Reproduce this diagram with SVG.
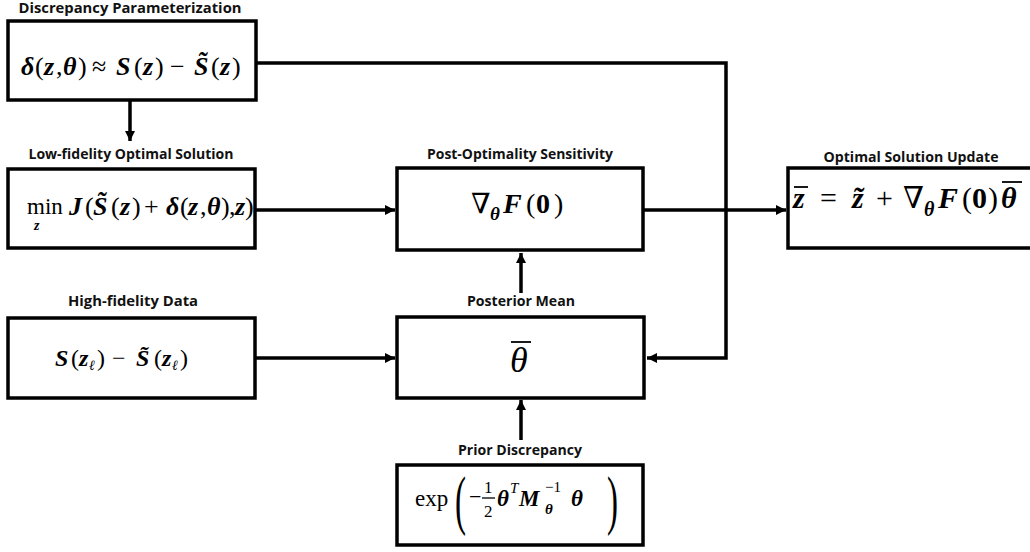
<svg xmlns="http://www.w3.org/2000/svg" width="1030" height="552" viewBox="0 0 1030 552">
<style>
.box{fill:#fff;stroke:#000;stroke-width:3.5}
.title{font-family:"Open Sans","Liberation Sans",sans-serif;font-weight:700;font-size:14px;fill:#111;text-anchor:middle}
.m{font-family:"Liberation Serif","DejaVu Serif",serif;fill:#000}
.bi{font-weight:700;font-style:italic}
.it{font-style:italic}
.conn{fill:none;stroke:#000;stroke-width:3.5}
.bar{stroke:#000;stroke-width:1.8}
</style>
<defs>
<marker id="ah" markerUnits="userSpaceOnUse" markerWidth="12" markerHeight="12" refX="10" refY="5" orient="auto">
<path d="M0,0 L10,5 L0,10 z" fill="#000"/>
</marker>
</defs>

<g id="connectors">
<path class="conn" d="M130,100 V141" marker-end="url(#ah)"/>
<path class="conn" d="M256,63 H726 V358 H647" marker-end="url(#ah)"/>
<path class="conn" d="M255,210 H395" marker-end="url(#ah)"/>
<path class="conn" d="M643,210 H786" marker-end="url(#ah)"/>
<path class="conn" d="M255,358 H395" marker-end="url(#ah)"/>
<path class="conn" d="M521,293 V253" marker-end="url(#ah)"/>
<path class="conn" d="M521,440 V400" marker-end="url(#ah)"/>
</g>

<g id="node-discrepancy">
<text class="title" x="130" y="13" textLength="223" lengthAdjust="spacingAndGlyphs">Discrepancy Parameterization</text>
<rect class="box" x="8" y="21" width="248" height="79"/>
<text class="m" y="75" font-size="26"><tspan class="bi" x="21">δ</tspan><tspan x="35">(</tspan><tspan class="bi" x="44">z</tspan><tspan x="56">,</tspan><tspan class="bi" x="63">θ</tspan><tspan x="78">)</tspan><tspan x="92">≈</tspan><tspan class="bi" x="116">S</tspan><tspan x="134">(</tspan><tspan class="bi" x="143">z</tspan><tspan x="155">)</tspan><tspan x="170">−</tspan><tspan class="bi" x="194">S&#771;</tspan><tspan x="211">(</tspan><tspan class="bi" x="220">z</tspan><tspan x="232">)</tspan></text>
</g>

<g id="node-lowfi">
<text class="title" x="131" y="159" textLength="205" lengthAdjust="spacingAndGlyphs">Low-fidelity Optimal Solution</text>
<rect class="box" x="8" y="169" width="247" height="79"/>
<text class="m" x="27" y="214" font-size="23">min</text>
<text class="m bi" x="34" y="230" font-size="14">z</text>
<text class="m" y="215" font-size="26"><tspan class="bi" x="69">J</tspan><tspan x="85">(</tspan><tspan class="bi" x="93">S&#771;</tspan><tspan x="111">(</tspan><tspan class="bi" x="120">z</tspan><tspan x="132">)</tspan><tspan x="144">+</tspan><tspan class="bi" x="166">δ</tspan><tspan x="180">(</tspan><tspan class="bi" x="188">z</tspan><tspan x="200">,</tspan><tspan class="bi" x="207">θ</tspan><tspan x="221">)</tspan><tspan x="229">,</tspan><tspan class="bi" x="235">z</tspan><tspan x="245">)</tspan></text>
</g>

<g id="node-postopt">
<text class="title" x="520" y="159" textLength="186" lengthAdjust="spacingAndGlyphs">Post-Optimality Sensitivity</text>
<rect class="box" x="397" y="168" width="246" height="82"/>
<text class="m" y="213" font-size="28"><tspan x="471">∇</tspan><tspan class="bi" x="490" y="220" font-size="19">θ</tspan><tspan class="bi" x="503" y="213">F</tspan><tspan x="526">(</tspan><tspan font-weight="700" x="536">0</tspan><tspan x="554">)</tspan></text>
</g>

<g id="node-update">
<text class="title" x="911" y="162" textLength="175" lengthAdjust="spacingAndGlyphs">Optimal Solution Update</text>
<rect class="box" x="788" y="168" width="260" height="80"/>
<line class="bar" x1="794" y1="187" x2="808" y2="187"/>
<line class="bar" x1="1002" y1="182" x2="1022" y2="182"/>
<text class="m" y="208" font-size="30"><tspan class="bi" x="793">z</tspan><tspan x="820">=</tspan><tspan class="bi" x="852">z&#771;</tspan><tspan x="876">+</tspan><tspan x="903">∇</tspan><tspan class="bi" x="924" y="216" font-size="20">θ</tspan><tspan class="bi" x="938" y="208">F</tspan><tspan x="962">(</tspan><tspan font-weight="700" x="972">0</tspan><tspan x="988">)</tspan><tspan class="bi" x="1001">θ</tspan></text>
</g>

<g id="node-highfi">
<text class="title" x="133" y="306" textLength="130" lengthAdjust="spacingAndGlyphs">High-fidelity Data</text>
<rect class="box" x="8" y="318" width="247" height="80"/>
<text class="m" y="366" font-size="24"><tspan class="bi" x="55">S</tspan><tspan x="71">(</tspan><tspan class="bi" x="79">z</tspan><tspan class="it" x="89" y="370" font-size="14">ℓ</tspan><tspan x="97" y="366">)</tspan><tspan x="112">−</tspan><tspan class="bi" x="136">S&#771;</tspan><tspan x="154">(</tspan><tspan class="bi" x="162">z</tspan><tspan class="it" x="172" y="370" font-size="14">ℓ</tspan><tspan x="180" y="366">)</tspan></text>
</g>

<g id="node-posterior">
<text class="title" x="521" y="306" textLength="108" lengthAdjust="spacingAndGlyphs">Posterior Mean</text>
<rect class="box" x="397" y="317" width="247" height="81"/>
<line class="bar" x1="511" y1="342" x2="531" y2="342"/>
<text class="m it" x="510" y="372" font-size="36">θ</text>
</g>

<g id="node-prior">
<text class="title" x="520" y="455" textLength="124" lengthAdjust="spacingAndGlyphs">Prior Discrepancy</text>
<rect class="box" x="397" y="465" width="246" height="80"/>
<text class="m" x="415" y="506" font-size="23">exp</text>
<text class="m" x="455" y="522" font-size="66" transform="translate(455 0) scale(0.5 1) translate(-455 0)">(</text>
<text class="m" x="607" y="522" font-size="66" transform="translate(607 0) scale(0.5 1) translate(-607 0)">)</text>
<text class="m" x="469" y="504" font-size="22">−</text>
<text class="m" x="484" y="493" font-size="17">1</text>
<line class="bar" x1="482" y1="498" x2="495" y2="498" style="stroke-width:1.3"/>
<text class="m" x="484" y="517" font-size="17">2</text>
<text class="m" y="506" font-size="23"><tspan class="bi" x="497">θ</tspan><tspan class="it" x="510" y="493" font-size="15">T</tspan><tspan class="bi" x="519" y="506">M</tspan><tspan x="545" y="492" font-size="15">−1</tspan><tspan class="bi" x="545" y="514" font-size="15">θ</tspan><tspan class="bi" x="571" y="506">θ</tspan></text>
</g>
</svg>
